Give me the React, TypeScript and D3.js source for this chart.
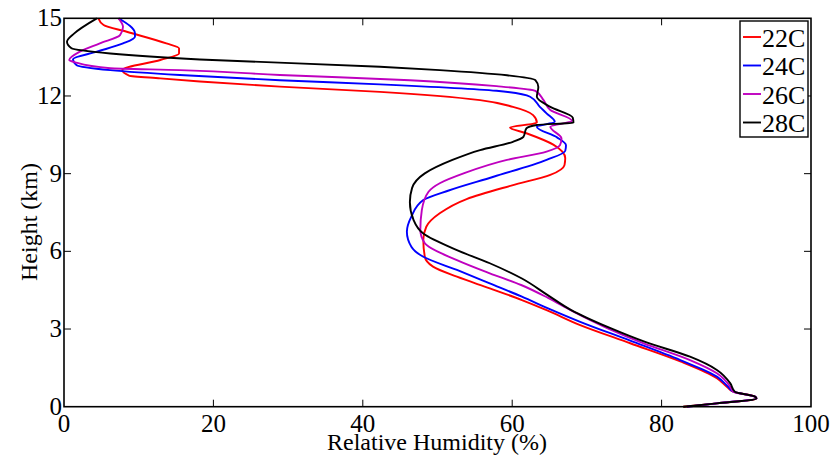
import React from "react";
import * as d3 from "d3";

const seriesNames = ["22C", "24C", "26C", "28C"];
const seriesColors = ["#ff0000", "#0000ff", "#bf00bf", "#000000"];

// [relative humidity (%), height (km)]
const rh22: [number, number][] = [
  [4.6, 15], [5.3, 14.74], [8.4, 14.48], [13.7, 14.03], [15.4, 13.84], [15.4, 13.64], [12.9, 13.39],
  [7.8, 13.0], [8.7, 12.79], [12.9, 12.68], [18.2, 12.56], [28.9, 12.36], [42.3, 12.16], [55.7, 11.84],
  [60.1, 11.58], [62.8, 11.26], [63.3, 10.97], [59.7, 10.78], [61.9, 10.56], [65.5, 10.12], [67.1, 9.6],
  [67.0, 9.33], [65.1, 8.95], [60.0, 8.55], [53.9, 8.02], [50.3, 7.47], [48.5, 6.95], [48.1, 6.44],
  [48.3, 5.79], [49.4, 5.41], [52.6, 5.02], [57.0, 4.57], [61.3, 4.12], [64.6, 3.73], [69.1, 3.15],
  [75.8, 2.45], [82.5, 1.75], [87.4, 1.1], [88.8, 0.75], [89.6, 0.58], [92.5, 0.39], [92.7, 0.32],
  [87.4, 0.13], [82.9, 0],
];
const rh24: [number, number][] = [
  [7.3, 15], [9.5, 14.42], [9.5, 14.29], [7.9, 14.03], [4.4, 13.71], [1.2, 13.42], [1.7, 13.19],
  [6.2, 13.0], [15.5, 12.81], [28.9, 12.61], [42.3, 12.45], [57.9, 12.2], [62.4, 11.97], [63.7, 11.58],
  [64.6, 11.33], [65.7, 11.0], [63.3, 10.81], [66.0, 10.4], [67.2, 10.1], [67.1, 9.88], [64.6, 9.53],
  [57.5, 8.88], [51.5, 8.35], [48.1, 7.98], [46.5, 7.34], [45.9, 6.76], [46.5, 6.18], [48.1, 5.79],
  [52.6, 5.28], [57.0, 4.76], [61.3, 4.25], [64.8, 3.8], [69.1, 3.28], [75.8, 2.55], [82.5, 1.8],
  [87.4, 1.16], [88.9, 0.77], [89.6, 0.58], [92.5, 0.39], [92.7, 0.32], [87.4, 0.13], [83.4, 0],
];
const rh26: [number, number][] = [
  [7.3, 15], [7.9, 14.67], [7.5, 14.35], [4.8, 14.03], [2.1, 13.71], [0.7, 13.39], [1.5, 13.3],
  [6.2, 13.07], [15.5, 13.0], [28.9, 12.81], [46.3, 12.61], [57.9, 12.38], [63.1, 12.2], [64.2, 11.84],
  [65.1, 11.46], [68.0, 11.04], [65.1, 10.81], [66.6, 10.36], [66.4, 10.1], [64.6, 9.85], [59.3, 9.53],
  [53.5, 9.01], [50.3, 8.63], [48.8, 8.3], [47.9, 7.59], [47.7, 6.82], [48.3, 6.31], [52.6, 5.66],
  [57.0, 5.15], [61.2, 4.7], [64.8, 4.2], [68.0, 3.7], [73.0, 3.0], [77.6, 2.45], [83.8, 1.8],
  [87.4, 1.29], [89.2, 0.77], [89.6, 0.58], [92.5, 0.39], [92.7, 0.32], [87.4, 0.13], [83.4, 0],
];
const rh28: [number, number][] = [
  [4.4, 15], [1.3, 14.4], [0.4, 14.09], [1.0, 13.84], [6.2, 13.64], [18.2, 13.41], [42.3, 13.13],
  [50.3, 13.0], [59.3, 12.8], [63.1, 12.61], [63.5, 12.35], [63.3, 11.97], [65.1, 11.58], [68.1, 11.17],
  [68.2, 10.97], [63.3, 10.88], [61.9, 10.75], [61.5, 10.42], [60.1, 10.23], [55.7, 9.91], [52.0, 9.53],
  [48.3, 9.01], [46.6, 8.45], [46.3, 7.9], [46.8, 7.21], [48.1, 6.69], [52.6, 6.05], [57.0, 5.54],
  [61.3, 4.95], [64.8, 4.3], [67.9, 3.73], [73.0, 3.05], [77.8, 2.5], [83.8, 1.93], [87.4, 1.42],
  [89.2, 0.9], [89.8, 0.58], [92.5, 0.39], [92.7, 0.32], [87.4, 0.13], [82.9, 0],
];
const seriesData = [rh22, rh24, rh26, rh28];

const xTicks = [0, 20, 40, 60, 80, 100];
const yTicks = [0, 3, 6, 9, 12, 15];
const xLabel = "Relative Humidity (%)";
const yLabel = "Height (km)";

const W = 830, H = 456;
const L = 64, R = 811, T = 18.3, B = 406.7;
const FONT = "Liberation Serif, Tinos, Times New Roman, Times, Nimbus Roman, DejaVu Serif, serif";

export default function App() {
  const x = d3.scaleLinear().domain([0, 100]).range([L, R]);
  const y = d3.scaleLinear().domain([0, 15]).range([B, T]);
  const line = d3
    .line<[number, number]>()
    .x((d) => x(d[0]))
    .y((d) => y(d[1]))
    .curve(d3.curveMonotoneY);
  const tk = 7;
  const fs = { fontFamily: FONT };
  return (
    <svg width={W} height={H} style={{ position: "absolute", left: 0, top: 0, background: "#fff" }}>
      <rect x={0} y={0} width={W} height={H} fill="#fff" />
      <g>
        {seriesData.map((d, i) => (
          <path key={i} d={line(d) || ""} fill="none" stroke={seriesColors[i]} strokeWidth={1.9} strokeLinejoin="round" />
        ))}
      </g>
      <rect x={L} y={T} width={R - L} height={B - T} fill="none" stroke="#000" strokeWidth={1.6} />
      {xTicks.slice(1, -1).map((t) => (
        <g key={"x" + t}>
          <line x1={x(t)} x2={x(t)} y1={B} y2={B - tk} stroke="#000" strokeWidth={1} />
          <line x1={x(t)} x2={x(t)} y1={T} y2={T + tk} stroke="#000" strokeWidth={1} />
        </g>
      ))}
      {yTicks.slice(1, -1).map((t) => (
        <g key={"y" + t}>
          <line x1={L} x2={L + tk} y1={y(t)} y2={y(t)} stroke="#000" strokeWidth={1} />
          <line x1={R} x2={R - tk} y1={y(t)} y2={y(t)} stroke="#000" strokeWidth={1} />
        </g>
      ))}
      <g style={{ ...fs, fontSize: 25 }} fill="#000">
        {xTicks.map((t) => (
          <text key={"xl" + t} x={x(t)} y={432} textAnchor="middle">{t}</text>
        ))}
        {yTicks.map((t) => (
          <text key={"yl" + t} x={62} y={y(t) + 8} textAnchor="end">{t}</text>
        ))}
      </g>
      <text x={437} y={450} textAnchor="middle" style={{ ...fs, fontSize: 24 }}>{xLabel}</text>
      <text transform={`translate(37,222) rotate(-90)`} textAnchor="middle" style={{ ...fs, fontSize: 24 }}>{yLabel}</text>
      <g>
        <rect x={740} y={21} width={68} height={116} fill="#fff" stroke="#000" strokeWidth={1.4} />
        {seriesNames.map((n, i) => {
          const cy = 37 + i * 28.5;
          return (
            <g key={n}>
              <line x1={743} x2={761} y1={cy} y2={cy} stroke={seriesColors[i]} strokeWidth={1.9} />
              <text x={762} y={cy + 9.5} style={{ ...fs, fontSize: 26 }}>{n}</text>
            </g>
          );
        })}
      </g>
    </svg>
  );
}
